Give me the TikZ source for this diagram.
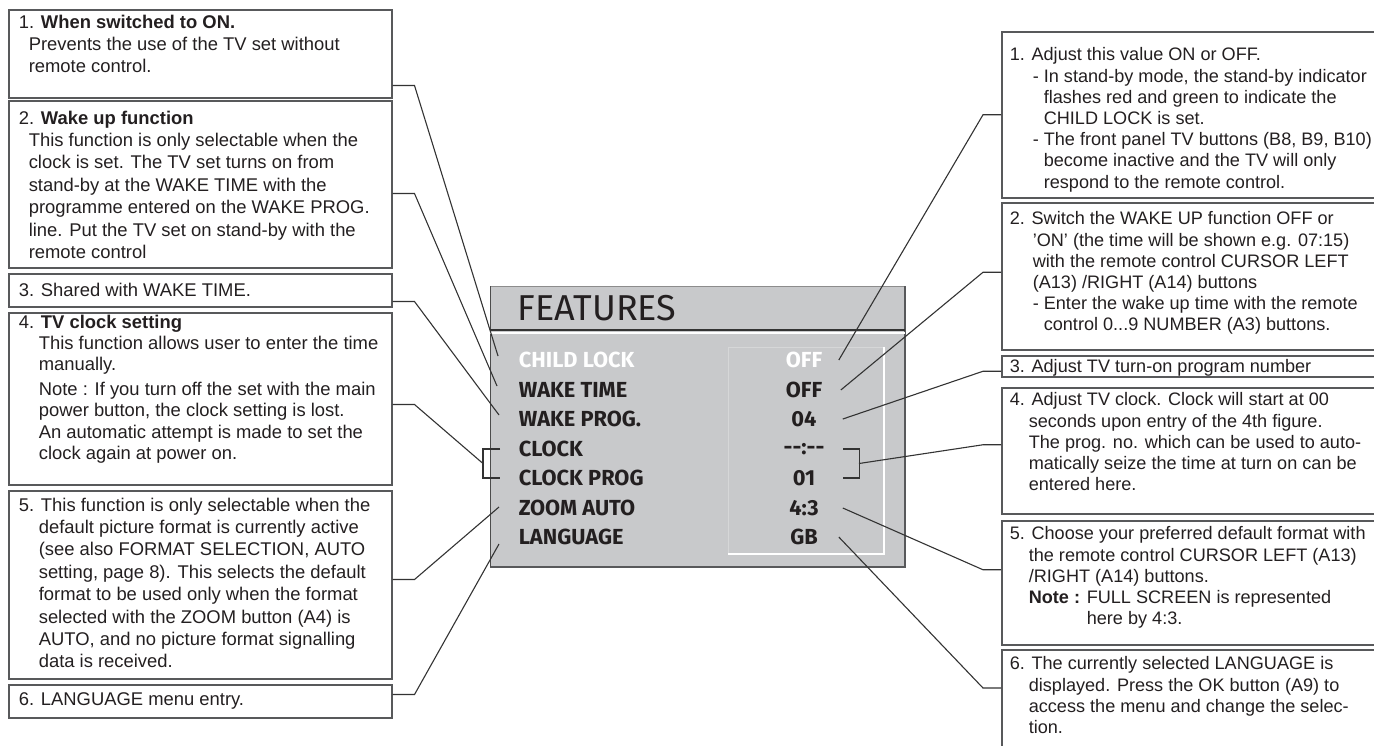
\documentclass[tikz,border=0pt]{standalone}
\usepackage{fontspec}
\setmainfont{Liberation Sans}
\newfontfamily\menufont{Fira Sans}
\usetikzlibrary{positioning,calc}
\definecolor{osdgray}{HTML}{C8C9CB}
\definecolor{rimgray}{HTML}{58595B}
\definecolor{inkgray}{HTML}{231F20}

\begin{document}
\begin{tikzpicture}[x=0.5pt, y=-0.5pt, thick]
        \tikzset{
            notebox/.style={draw=rimgray, line width=0.75pt, rectangle, anchor=north west, inner sep=0pt, minimum width=191.5pt},
            rnotebox/.style={notebox, minimum width=200pt},
            note/.style={anchor=north west, inner sep=0pt, align=left, text=inkgray, font=\fontsize{9.2}{10.6}\selectfont},
            lnote/.style={note, font=\fontsize{9.2}{11.2}\selectfont},
            rnote/.style={note, font=\fontsize{9.05}{10.6}\selectfont},
            item/.style={anchor=west, inner sep=0pt, text=inkgray, font=\menufont\bfseries\fontsize{10.9}{12}\selectfont},
            value/.style={inner sep=0pt, minimum width=20pt, text=inkgray, font=\menufont\bfseries\fontsize{10.9}{12}\selectfont},
            leader/.style={draw=black!80, line width=0.55pt}
        }
        \useasboundingbox (0,0) rectangle (1374,745);
        \clip (0,0) rectangle (1374,745);

        % Left Side (explanations of the menu lines)
        \node[notebox, minimum height=44pt] (l1) at (8,9) {};
        \node[notebox, minimum height=83.5pt] (l2) at (8,100) {};
        \node[notebox, minimum height=16.5pt] (l3) at (8,273) {};
        \node[notebox, minimum height=86pt] (l4) at (8,312) {};
        \node[notebox, minimum height=94pt] (l5) at (8,490) {};
        \node[notebox, minimum height=16.5pt] (l6) at (8,684) {};

        \node[lnote] (t1) at ([shift={(10,5)}]l1.north west) {1. \textbf{When switched to ON.}\\\hspace*{5pt}Prevents the use of the TV set without\\\hspace*{5pt}remote control.};
        \node[lnote] (t2) at ([shift={(10,10)}]l2.north west) {2. \textbf{Wake up function}\\\hspace*{5pt}This function is only selectable when the\\\hspace*{5pt}clock is set. The TV set turns on from\\\hspace*{5pt}stand-by at the WAKE TIME with the\\\hspace*{5pt}programme entered on the WAKE PROG.\\\hspace*{5pt}line. Put the TV set on stand-by with the\\\hspace*{5pt}remote control};
        \node[note] (t3) at ([shift={(10,9)}]l3.north west) {3. Shared with WAKE TIME.};
        \node[note] (t4) at ([shift={(10,2)}]l4.north west) {4. \textbf{TV clock setting}\\\hspace*{10pt}This function allows user to enter the time\\\hspace*{10pt}manually.\\[2pt]\hspace*{10pt}Note : If you turn off the set with the main\\\hspace*{10pt}power button, the clock setting is lost.\\\hspace*{10pt}An automatic attempt is made to set the\\\hspace*{10pt}clock again at power on.};
        \node[lnote] (t5) at ([shift={(10,7)}]l5.north west) {5. This function is only selectable when the\\\hspace*{10pt}default picture format is currently active\\\hspace*{10pt}(see also FORMAT SELECTION, AUTO\\\hspace*{10pt}setting, page 8). This selects the default\\\hspace*{10pt}format to be used only when the format\\\hspace*{10pt}selected with the ZOOM button (A4) is\\\hspace*{10pt}AUTO, and no picture format signalling\\\hspace*{10pt}data is received.};
        \node[note] (t6) at ([shift={(10,8)}]l6.north west) {6. LANGUAGE menu entry.};

        % Center (the FEATURES menu)
        \node[draw=black!45, line width=0.5pt, fill=osdgray, anchor=north west, inner sep=0pt, minimum width=207pt, minimum height=140pt] (menu) at (490,286) {};
        \draw[rimgray, line width=1.1pt] (menu.north east) -- (menu.south east) -- (menu.south west);
        \draw[black!70, line width=0.5pt] (menu.north west) -- (menu.south west);
        \draw[black!80, line width=0.6pt] ([yshift=-22pt]menu.north west) -- ([yshift=-22pt]menu.north east);
        \draw[white, line width=0.9pt] ([yshift=-23.4pt]menu.north west) -- ([yshift=-23.4pt]menu.north east);
        \node[anchor=west, inner sep=0pt, text=inkgray, font=\menufont\fontsize{18}{20}\selectfont] (title) at (517,308) {FEATURES};

        \node[draw=osdgray!75!white, line width=0.4pt, anchor=north west, inner sep=0pt, minimum width=77.5pt, minimum height=103pt] (vals) at (728,347) {};
        \draw[white, line width=0.8pt] (vals.south west) -- (vals.south east) -- (vals.north east);

        \node[item, text=white] (i1) at (518,360) {CHILD LOCK};
        \node[item] (i2) at (518,390) {WAKE TIME};
        \node[item] (i3) at (518,419) {WAKE PROG.};
        \node[item] (i4) at (518,449) {CLOCK};
        \node[item] (i5) at (518,478) {CLOCK PROG};
        \node[item] (i6) at (518,508) {ZOOM AUTO};
        \node[item] (i7) at (518,537) {LANGUAGE};

        \node[value, text=white] (v1) at (804,360) {OFF};
        \node[value] (v2) at (804,390) {OFF};
        \node[value] (v3) at (804,419) {04};
        \node[value] (v4) at (804,449) {-{}-:-{}-};
        \node[value] (v5) at (804,478) {01};
        \node[value] (v6) at (804,508) {4:3};
        \node[value] (v7) at (804,537) {GB};

        % Right Side (settings of the menu lines)
        \node[rnotebox, minimum height=83pt] (r1) at (1001,31) {};
        \node[rnotebox, minimum height=73.5pt] (r2) at (1001,202) {};
        \node[rnotebox, minimum height=10.5pt] (r3) at (1001,355) {};
        \node[rnotebox, minimum height=63pt] (r4) at (1001,387) {};
        \node[rnotebox, minimum height=62pt] (r5) at (1001,520) {};
        \node[rnotebox, minimum height=60pt] (r6) at (1001,649) {};

        \node[rnote] (s1) at ([shift={(8,16)}]r1.north west) {1. Adjust this value ON or OFF.\\\hspace*{11.5pt}- In stand-by mode, the stand-by indicator\\\hspace*{17pt}flashes red and green to indicate the\\\hspace*{17pt}CHILD LOCK is set.\\\hspace*{11.5pt}- The front panel TV buttons (B8, B9, B10)\\\hspace*{17pt}become inactive and the TV will only\\\hspace*{17pt}respond to the remote control.};
        \node[rnote] (s2) at ([shift={(8,9)}]r2.north west) {2. Switch the WAKE UP function OFF or\\\hspace*{11.5pt}'ON' (the time will be shown e.g. 07:15)\\\hspace*{11.5pt}with the remote control CURSOR LEFT\\\hspace*{11.5pt}(A13) /RIGHT (A14) buttons\\\hspace*{11.5pt}- Enter the wake up time with the remote\\\hspace*{17pt}control 0...9 NUMBER (A3) buttons.};
        \node[rnote] (s3) at ([shift={(8,4)}]r3.north west) {3. Adjust TV turn-on program number};
        \node[rnote] (s4) at ([shift={(8,5)}]r4.north west) {4. Adjust TV clock. Clock will start at 00\\\hspace*{9.5pt}seconds upon entry of the 4th figure.\\\hspace*{9.5pt}The prog. no. which can be used to auto-\\\hspace*{9.5pt}matically seize the time at turn on can be\\\hspace*{9.5pt}entered here.};
        \node[rnote] (s5) at ([shift={(8,6)}]r5.north west) {5. Choose your preferred default format with\\\hspace*{9.5pt}the remote control CURSOR LEFT (A13)\\\hspace*{9.5pt}/RIGHT (A14) buttons.\\\hspace*{9.5pt}\textbf{Note :} FULL SCREEN is represented\\\hspace*{38.5pt}here by 4:3.};
        \node[rnote] (s6) at ([shift={(8,7)}]r6.north west) {6. The currently selected LANGUAGE is\\\hspace*{9.5pt}displayed. Press the OK button (A9) to\\\hspace*{9.5pt}access the menu and change the selec-\\\hspace*{9.5pt}tion.};

        % Leaders from the left boxes
        \coordinate (lbr) at ([xshift=-17.5pt]$(i4.west)!0.5!(i5.west)$);
        \path[leader] ([xshift=-9pt]i4.west) -- ++(-8.5pt,0) |- ([xshift=-9pt]i5.west);
        \path[leader] ([yshift=6.5pt]l1.south east) -- ++(11pt,0) -- ([shift={(-20,-4)}]i1.west);
        \path[leader] ([yshift=37.5pt]l2.south east) -- ++(11pt,0) -- ([shift={(-21,-4)}]i2.west);
        \path[leader] ([yshift=3pt]l3.south east) -- ++(11pt,0) -- ([shift={(-19,-4)}]i3.west);
        \path[leader] ([yshift=40.5pt]l4.south east) -- ++(11pt,0) -- (lbr);
        \path[leader] ([yshift=50pt]l5.south east) -- ++(11pt,0) -- ([shift={(-19,-1)}]i6.west);
        \path[leader] ([yshift=12pt]l6.south east) -- ++(11pt,0) -- ([shift={(-19,7)}]i7.west);

        % Leaders to the right boxes
        \coordinate (rbr) at ([xshift=17pt]$(v4.east)!0.5!(v5.east)$);
        \path[leader] ([xshift=9pt]v4.east) -- ++(8pt,0) |- ([xshift=9pt]v5.east);
        \path[leader] ([xshift=7pt]v1.east) -- ([xshift=-9pt]r1.west) -- (r1.west);
        \path[leader] ([xshift=8pt]v2.east) -- ([shift={(-9pt,2pt)}]r2.west) -- ([yshift=2pt]r2.west);
        \path[leader] ([xshift=9pt]v3.east) -- ([shift={(-9pt,-2.5pt)}]r3.west) -- ([yshift=-2.5pt]r3.west);
        \path[leader] (rbr) -- ([shift={(-9pt,3pt)}]r4.west) -- ([yshift=3pt]r4.west);
        \path[leader] ([xshift=9pt]v6.east) -- ([shift={(-9pt,6.5pt)}]r5.west) -- ([yshift=6.5pt]r5.west);
        \path[leader] ([xshift=7pt]v7.east) -- ([shift={(-9pt,-19.5pt)}]r6.north west) -- ([yshift=-19.5pt]r6.north west);

    \end{tikzpicture}
\end{document}
